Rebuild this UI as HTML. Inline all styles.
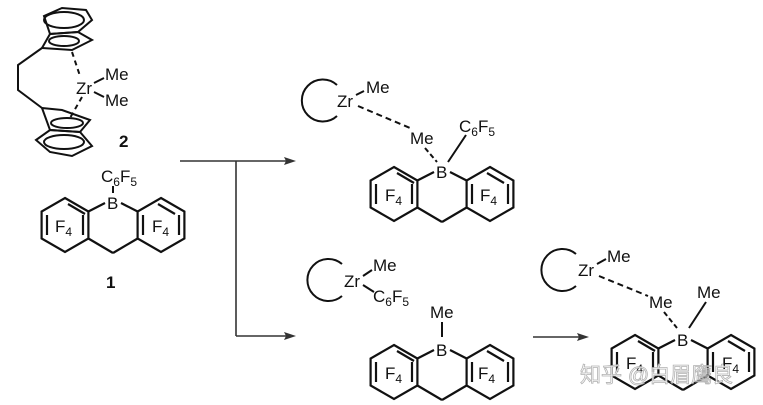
<!DOCTYPE html>
<html><head><meta charset="utf-8"><style>
html,body{margin:0;padding:0;background:#fff}
svg{display:block}
text{font-family:"Liberation Sans",Arial,sans-serif;font-size:17px;fill:#111}
.b{font-weight:bold}
</style></head><body>
<svg width="763" height="405" viewBox="0 0 763 405" xmlns="http://www.w3.org/2000/svg">
<defs>
<g id="tri" stroke="#111" stroke-width="2.2" fill="none">
  <polygon points="-48,-5 -24.6,8.5 -24.6,35.5 -48,49 -71.4,35.5 -71.4,8.5"/>
  <polygon points="48,-5 71.4,8.5 71.4,35.5 48,49 24.6,35.5 24.6,8.5"/>
  <line x1="-66" y1="12" x2="-66" y2="32"/>
  <line x1="-30" y1="12" x2="-30" y2="32"/>
  <line x1="-45" y1="1" x2="-28" y2="11"/>
  <line x1="66" y1="12" x2="66" y2="32"/>
  <line x1="30" y1="12" x2="30" y2="32"/>
  <line x1="45" y1="1" x2="62" y2="11"/>
  <line x1="-24.6" y1="8.5" x2="-8" y2="0"/>
  <line x1="24.6" y1="8.5" x2="8" y2="0"/>
  <line x1="-24.6" y1="35.5" x2="0" y2="50"/>
  <line x1="24.6" y1="35.5" x2="0" y2="50"/>
</g>
</defs>

<!-- compound 2 -->
<g stroke="#111" stroke-width="2" fill="none">
  <polygon points="44,16 62,8 86,10 92,20 78,32 50,34"/>
  <ellipse cx="64" cy="20" rx="20" ry="8"/>
  <polygon points="42,48 50,34 78,32 92,40 72,50"/>
  <ellipse cx="64" cy="41" rx="15" ry="5"/>
  <polyline points="42,48 18,65 18,90 42,108"/>
  <line x1="72" y1="52" x2="80" y2="76" stroke-dasharray="5,4"/>
  <line x1="82" y1="97" x2="70" y2="118" stroke-dasharray="5,4"/>
  <line x1="94" y1="83" x2="104" y2="78"/>
  <line x1="94" y1="92" x2="104" y2="97"/>
  <polygon points="42,108 62,110 90,120 80,132 50,130"/>
  <ellipse cx="67" cy="123" rx="16" ry="5"/>
  <polygon points="50,130 80,132 92,146 72,156 50,152 36,140"/>
  <ellipse cx="64" cy="142" rx="20" ry="7"/>
</g>
<text x="76" y="94">Zr</text>
<text x="105" y="80">Me</text>
<text x="105" y="106">Me</text>
<text x="119" y="147" class="b">2</text>

<!-- compound 1 -->
<text x="101" y="182">C<tspan font-size="12" dy="4">6</tspan><tspan dy="-4">F</tspan><tspan font-size="12" dy="4">5</tspan></text>
<line x1="113" y1="186" x2="113" y2="193" stroke="#111" stroke-width="2"/>
<text x="107" y="209">B</text>
<use href="#tri" x="113" y="203"/>
<text x="55" y="232">F<tspan font-size="12" dy="4">4</tspan></text>
<text x="152" y="232">F<tspan font-size="12" dy="4">4</tspan></text>
<text x="106" y="288" class="b">1</text>

<!-- arrows -->
<g stroke="#333" stroke-width="1.6" fill="none">
  <line x1="180" y1="161" x2="290" y2="161"/>
  <line x1="236" y1="161" x2="236" y2="336"/>
  <line x1="236" y1="336" x2="290" y2="336"/>
  <line x1="533" y1="337" x2="583" y2="337"/>
</g>
<g fill="#333">
  <polygon points="296,161 284,157 286,161 284,165"/>
  <polygon points="296,336 284,332 286,336 284,340"/>
  <polygon points="589,337 577,333 579,337 577,341"/>
</g>

<!-- top product -->
<path d="M337,85 A21,21 0 1 0 337,116" stroke="#111" stroke-width="2" fill="none"/>
<text x="337" y="107">Zr</text>
<line x1="356" y1="95" x2="364" y2="91" stroke="#111" stroke-width="2"/>
<text x="366" y="93">Me</text>
<line x1="358" y1="106" x2="410" y2="128" stroke="#111" stroke-width="2" stroke-dasharray="6,4"/>
<text x="410" y="144">Me</text>
<line x1="425" y1="148" x2="437" y2="162" stroke="#111" stroke-width="2" stroke-dasharray="5,3"/>
<text x="459" y="132">C<tspan font-size="12" dy="4">6</tspan><tspan dy="-4">F</tspan><tspan font-size="12" dy="4">5</tspan></text>
<line x1="466" y1="135" x2="448" y2="162" stroke="#111" stroke-width="2"/>
<text x="436" y="178">B</text>
<use href="#tri" x="442" y="172"/>
<text x="385" y="201">F<tspan font-size="12" dy="4">4</tspan></text>
<text x="480" y="201">F<tspan font-size="12" dy="4">4</tspan></text>

<!-- bottom middle -->
<path d="M342,264 A21,21 0 1 0 342,296" stroke="#111" stroke-width="2" fill="none"/>
<text x="344" y="287">Zr</text>
<line x1="363" y1="276" x2="372" y2="270" stroke="#111" stroke-width="2"/>
<text x="373" y="271">Me</text>
<line x1="363" y1="285" x2="374" y2="292" stroke="#111" stroke-width="2"/>
<text x="373" y="302">C<tspan font-size="12" dy="4">6</tspan><tspan dy="-4">F</tspan><tspan font-size="12" dy="4">5</tspan></text>
<text x="430" y="318">Me</text>
<line x1="442" y1="322" x2="442" y2="337" stroke="#111" stroke-width="2"/>
<text x="436" y="356">B</text>
<use href="#tri" x="442" y="350"/>
<text x="385" y="379">F<tspan font-size="12" dy="4">4</tspan></text>
<text x="478" y="379">F<tspan font-size="12" dy="4">4</tspan></text>

<!-- bottom right -->
<path d="M576,254 A21,21 0 1 0 576,286" stroke="#111" stroke-width="2" fill="none"/>
<text x="578" y="276">Zr</text>
<line x1="597" y1="264" x2="606" y2="259" stroke="#111" stroke-width="2"/>
<text x="607" y="262">Me</text>
<line x1="599" y1="276" x2="648" y2="296" stroke="#111" stroke-width="2" stroke-dasharray="6,4"/>
<text x="649" y="308">Me</text>
<line x1="664" y1="312" x2="677" y2="328" stroke="#111" stroke-width="2" stroke-dasharray="5,3"/>
<text x="697" y="298">Me</text>
<line x1="706" y1="302" x2="689" y2="328" stroke="#111" stroke-width="2"/>
<text x="677" y="346">B</text>
<use href="#tri" x="683" y="340"/>
<text x="626" y="369">F<tspan font-size="12" dy="4">4</tspan></text>
<text x="722" y="369">F<tspan font-size="12" dy="4">4</tspan></text>

<!-- watermark -->
<text x="580" y="382" style="font-family:'Liberation Sans','Noto Sans CJK SC',sans-serif;font-size:21px;fill:#fff;stroke:#aaa;stroke-width:0.8;opacity:0.9">知乎 @白眉鹰良</text>
</svg>
</body></html>
